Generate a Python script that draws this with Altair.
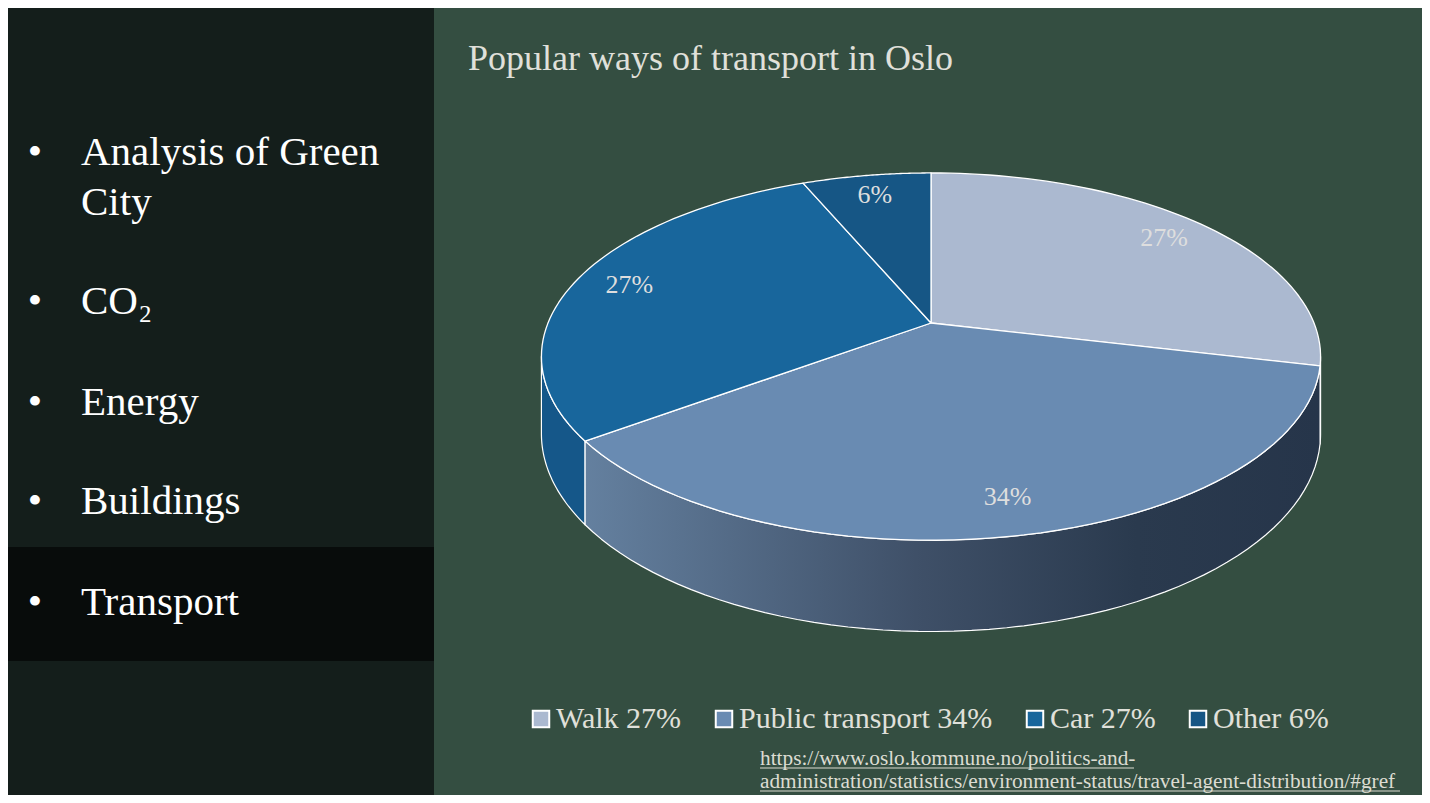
import altair as alt
import pandas as pd

# ---------------- data ----------------
categories = ["Walk", "Public transport", "Car", "Other"]
shares = [27, 34, 27, 6]

topics = [["Analysis of Green", "City"], ["CO₂"], ["Energy"], ["Buildings"], ["Transport"]]
title_text = "Popular ways of transport in Oslo"
source_lines = [
    "https://www.oslo.kommune.no/politics-and-",
    "administration/statistics/environment-status/travel-agent-distribution/#gref",
]

legend_labels = [f"{c} {v}%" for c, v in zip(categories, shares)]
df = pd.DataFrame({
    "category": categories,
    "value": shares,
    "order": list(range(len(categories))),
    "legend": legend_labels,
})

# ---------------- style ----------------
W, H = 1414, 787
SERIF = "Liberation Serif"
BG = "#344e41"
LEFT_BG = "#141e1b"
HIGHLIGHT = "#080c0b"
TEXT_LIGHT = "#e0e0da"
top_colors = ["#abb9d0", "#698bb2", "#18669c", "#165685"]
side_colors = ["#27364a", "#3f5068", "#155789", "#14507c"]
P = 0.183        # perspective strength of the tilted pie
DEPTH = 0.42     # thickness of the pie (in projected units)
R_LABEL = 0.85
N = 60
M = 60

xs = alt.Scale(domain=[-1, 1], range=[540, 1306], nice=False, zero=False)
ys = alt.Scale(domain=[-1, 1], range=[492.5, 137.5], nice=False, zero=False)

base = alt.Chart(df).transform_joinaggregate(
    total="sum(value)"
).transform_window(
    cum="sum(value)", sort=[alt.SortField("order", order="ascending")], frame=[None, 0]
).transform_calculate(
    t0="2*PI*(datum.cum - datum.value)/datum.total"
).transform_calculate(
    t1="2*PI*datum.cum/datum.total"
)


def project(ch, drop="0"):
    return ch.transform_calculate(
        px=f"datum.u / (1 + {P} * datum.v)"
    ).transform_calculate(
        py=f"datum.v / (1 + {P} * datum.v) - ({drop}) / (1 + {P} * datum.v)"
    )


# ---- top face ----
top = base.transform_calculate(
    idx=f"sequence(-1, {N + 1})"
).transform_flatten(["idx"]).transform_calculate(
    th=f"datum.t0 + (datum.t1 - datum.t0) * max(datum.idx, 0) / {N}"
).transform_calculate(
    u="datum.idx < 0 ? 0 : sin(datum.th)"
).transform_calculate(
    v="datum.idx < 0 ? 0 : cos(datum.th)"
)
top = project(top).mark_line(
    interpolate="linear-closed", filled=True, stroke="white", strokeWidth=1.3, strokeJoin="round"
).encode(
    x=alt.X("px:Q", scale=xs, axis=None),
    y=alt.Y("py:Q", scale=ys, axis=None),
    color=alt.Color(
        "legend:N",
        scale=alt.Scale(domain=legend_labels, range=top_colors),
        legend=alt.Legend(
            title=None, orient="none", legendX=518, legendY=696, direction="horizontal",
            symbolType="square", symbolSize=272, symbolStrokeColor="white", symbolStrokeWidth=2,
            symbolOpacity=1, labelFont=SERIF, labelFontSize=30, labelColor=TEXT_LIGHT,
            labelLimit=600, columnPadding=27, labelOffset=0, padding=0,
        ),
    ),
    order=alt.Order("idx:Q"),
    detail="category:N",
)

# ---- side wall (front-facing part of each slice) ----
lo = f"(PI/2 + asin({P}))"
hi = f"(3*PI/2 - asin({P}))"
side_base = base.transform_calculate(
    s0=f"max(datum.t0, {lo})"
).transform_calculate(
    s1=f"min(datum.t1, {hi})"
).transform_filter("datum.s1 > datum.s0").transform_calculate(
    idx=f"sequence(0, {2 * M + 2})"
).transform_flatten(["idx"]).transform_calculate(
    bottom=f"datum.idx > {M} ? 1 : 0"
).transform_calculate(
    k=f"datum.idx > {M} ? {2 * M + 1} - datum.idx : datum.idx"
).transform_calculate(
    th=f"datum.s0 + (datum.s1 - datum.s0) * datum.k / {M}"
).transform_calculate(
    u="sin(datum.th)"
).transform_calculate(
    v="cos(datum.th)"
)
side_base = project(side_base, drop=f"datum.bottom * {DEPTH}")

side_enc = dict(
    x=alt.X("px:Q", scale=xs, axis=None),
    y=alt.Y("py:Q", scale=ys, axis=None),
    order=alt.Order("idx:Q"),
    detail="category:N",
)

side_plain = side_base.transform_filter(
    "datum.category != 'Public transport'"
).mark_line(
    interpolate="linear-closed", filled=True, stroke="white", strokeWidth=1.2, strokeJoin="round"
).encode(
    fill=alt.Fill("category:N", scale=alt.Scale(domain=categories, range=side_colors), legend=None),
    **side_enc,
)

grad = alt.LinearGradient(
    gradient="linear",
    stops=[
        alt.GradientStop(color="#64809f", offset=0),
        alt.GradientStop(color="#3f5068", offset=0.45),
        alt.GradientStop(color="#2a3a4e", offset=0.75),
        alt.GradientStop(color="#26354a", offset=1),
    ],
    x1=0, x2=1, y1=0, y2=0,
)
side_public = side_base.transform_filter(
    "datum.category == 'Public transport'"
).mark_line(
    interpolate="linear-closed", filled=True, fill=grad, stroke="white", strokeWidth=1.2,
    strokeJoin="round",
).encode(**side_enc)

# ---- slice labels ----
labels = base.transform_calculate(
    tm="(datum.t0 + datum.t1) / 2"
).transform_calculate(
    u=f"{R_LABEL} * sin(datum.tm)"
).transform_calculate(
    v=f"{R_LABEL} * cos(datum.tm)"
)
labels = project(labels).transform_calculate(
    txt="datum.value + '%'"
).mark_text(font=SERIF, fontSize=26, color="#dedede", baseline="middle", align="center").encode(
    x=alt.X("px:Q", scale=xs, axis=None),
    y=alt.Y("py:Q", scale=ys, axis=None),
    text="txt:N",
)

# ---------------- slide decoration ----------------
one = alt.Data(values=[{}])


def rect(x0, x1, y0, y1, color):
    return alt.Chart(one).mark_rect(color=color).encode(
        x=alt.value(x0), x2=alt.value(x1), y=alt.value(y0), y2=alt.value(y1)
    )


def text(t, x, y, size, color, align="left", lh=None):
    kw = dict(text=t, font=SERIF, fontSize=size, color=color, align=align, baseline="alphabetic")
    if lh:
        kw["lineHeight"] = lh
    return alt.Chart(one).mark_text(**kw).encode(x=alt.value(x), y=alt.value(y))


def rule(x0, x1, y, color):
    return alt.Chart(one).mark_rule(color=color, strokeWidth=1).encode(
        x=alt.value(x0), x2=alt.value(x1), y=alt.value(y)
    )


deco = [rect(0, 426, 0, H, LEFT_BG), rect(0, 426, 539, 653, HIGHLIGHT)]

topic_baselines = [157, 306, 407, 506, 607]
texts = []
for t, yb in zip(topics, topic_baselines):
    texts.append(text("•", 27, yb, 41, "white", align="center"))
    texts.append(text(t if len(t) > 1 else t[0], 73, yb, 41, "white", lh=50))

texts.append(text(title_text, 460, 62, 36, TEXT_LIGHT))
texts.append(text(source_lines[0], 752, 757, 21.3, "#dcdcd2"))
texts.append(text(source_lines[1], 752, 780, 21.3, "#dcdcd2"))
texts.append(rule(752, 1126, 760, "#dcdcd2"))
texts.append(rule(752, 1392, 783, "#dcdcd2"))

chart = alt.layer(
    *deco, side_plain, side_public, top, labels, *texts
).properties(
    width=W, height=H, padding=0, background=BG,
    autosize=alt.AutoSizeParams(type="none"),
).configure_view(stroke=None)

chart.save("out.html", embed_options={"renderer": "svg", "actions": False})
